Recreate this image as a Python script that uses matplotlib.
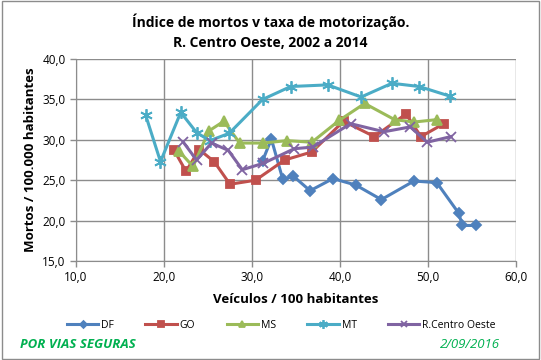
import matplotlib.pyplot as plt
from matplotlib.ticker import FuncFormatter

plt.rcParams['font.family'] = ['Open Sans', 'DejaVu Sans']

# veiculos / 100 hab (x) e mortos / 100.000 hab (y), 2002 a 2014
df_x = [31.2, 32.2, 33.5, 34.7, 36.6, 39.2, 41.8, 44.7, 48.4, 51.0, 53.5, 53.9, 55.4]
df_y = [27.4, 30.1, 25.1, 25.5, 23.7, 25.2, 24.4, 22.6, 24.9, 24.7, 20.9, 19.4, 19.4]

go_x = [21.1, 22.5, 24.0, 25.7, 27.5, 30.4, 33.7, 36.8, 40.4, 43.9, 47.5, 49.2, 51.8]
go_y = [28.8, 26.1, 28.8, 27.3, 24.5, 25.0, 27.5, 28.5, 32.3, 30.4, 33.2, 30.4, 32.0]

ms_x = [21.7, 23.3, 25.1, 26.8, 28.6, 31.2, 34.0, 36.8, 39.9, 42.8, 46.2, 48.4, 51.0]
ms_y = [28.6, 26.7, 31.1, 32.3, 29.6, 29.6, 29.9, 29.7, 32.4, 34.5, 32.5, 32.2, 32.5]

mt_x = [17.9, 19.6, 21.9, 23.7, 25.2, 27.4, 31.2, 34.4, 38.6, 42.4, 45.9, 49.0, 52.5]
mt_y = [33.1, 27.3, 33.4, 30.9, 29.9, 30.8, 35.0, 36.6, 36.8, 35.3, 37.0, 36.6, 35.4]

rco_x = [22.2, 23.7, 25.4, 27.3, 28.9, 31.3, 34.8, 36.9, 41.2, 45.0, 48.0, 49.9, 52.6]
rco_y = [29.7, 27.5, 29.6, 28.7, 26.3, 27.1, 28.9, 29.1, 32.0, 31.0, 31.6, 29.7, 30.4]

series = [
    ('DF', df_x, df_y, '#4F81BD', 'D', 5),
    ('GO', go_x, go_y, '#C0504D', 's', 6),
    ('MS', ms_x, ms_y, '#9BBB59', '^', 7),
    ('MT', mt_x, mt_y, '#4BACC6', (6, 2, 0), 9),
    ('R.Centro Oeste', rco_x, rco_y, '#8064A2', 'x', 7),
]

fig = plt.figure(figsize=(5.41, 3.6), dpi=100)
ax = fig.add_axes([0.1405, 0.275, 0.8133, 0.561])

for name, xs, ys, col, mk, ms in series:
    ax.plot(xs, ys, color=col, lw=2.2, marker=mk, markersize=ms,
            markeredgecolor=col, markerfacecolor=col, markeredgewidth=1.3,
            label=name)

ax.set_xlim(10, 60)
ax.set_ylim(15, 40)
ax.set_xticks(range(10, 61, 10))
ax.set_yticks(range(15, 41, 5))
fmt = FuncFormatter(lambda v, p: f'{v:.1f}'.replace('.', ','))
ax.xaxis.set_major_formatter(fmt)
ax.yaxis.set_major_formatter(fmt)
ax.grid(True, color='#8c8c8c', lw=1)
ax.set_axisbelow(True)
for s in ['top', 'right']:
    ax.spines[s].set_visible(False)
for s in ['left', 'bottom']:
    ax.spines[s].set_color('#8c8c8c')
ax.tick_params(colors='#8c8c8c', labelcolor='black', labelsize=8.5, length=4, width=1)

ax.set_xlabel('Veículos / 100 habitantes', fontsize=9.5, fontweight='bold', labelpad=6)
ax.set_ylabel('Mortos / 100.000 habitantes', fontsize=9.5, fontweight='bold', labelpad=4)

fig.text(0.5, 0.925, 'Índice de mortos v taxa de motorização.', ha='center',
         fontsize=10, fontweight='bold')
fig.text(0.5, 0.87, 'R. Centro Oeste, 2002 a 2014', ha='center',
         fontsize=10, fontweight='bold')

fig.legend(loc='center', bbox_to_anchor=(0.52, 0.097), ncol=5, frameon=False,
           fontsize=7.5, handlelength=3, columnspacing=3, handletextpad=0.3,
           markerscale=0.7)

fig.text(0.037, 0.032, 'POR VIAS SEGURAS', color='#00B050', fontsize=9.5,
         fontweight='bold', style='italic')
fig.text(0.925, 0.032, '2/09/2016', color='#00B050', fontsize=9.5,
         style='italic', ha='right')

fig.patches.append(plt.Rectangle((0.003, 0.004), 0.994, 0.992, transform=fig.transFigure,
                                 fill=False, edgecolor='#8c8c8c', lw=1))

fig.savefig('out.png', dpi=100)
